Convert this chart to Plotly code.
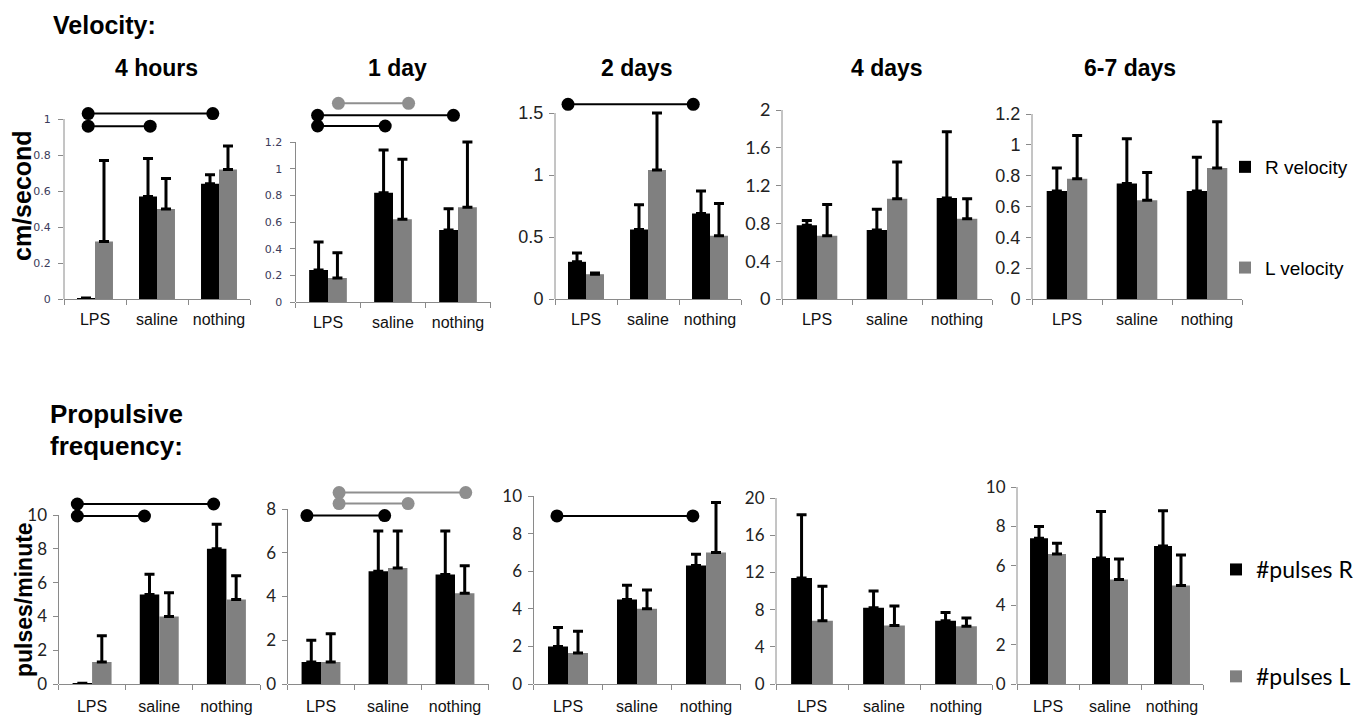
import plotly.graph_objects as go

W, H = 1372, 721
OFF = 8                      # page body margin offset of the figure inside the window
FW, FH = W - OFF, H - OFF    # figure size so that it ends exactly at the window edge

categories = ["LPS", "saline", "nothing"]
cat_pos = [0, 1, 2]
time_titles = ["4 hours", "1 day", "2 days", "4 days", "6-7 days"]

# Velocity (cm/second): means and upper error amounts, per time point
vel_R = [[0.005, 0.57, 0.64], [0.24, 0.82, 0.54], [0.30, 0.56, 0.69], [0.78, 0.73, 1.07], [0.70, 0.75, 0.70]]
vel_R_err = [[0.0, 0.21, 0.05], [0.21, 0.32, 0.16], [0.07, 0.20, 0.18], [0.05, 0.22, 0.70], [0.15, 0.29, 0.22]]
vel_L = [[0.32, 0.50, 0.72], [0.18, 0.62, 0.71], [0.20, 1.04, 0.51], [0.67, 1.06, 0.85], [0.78, 0.64, 0.85]]
vel_L_err = [[0.45, 0.17, 0.13], [0.19, 0.45, 0.49], [0.01, 0.46, 0.26], [0.33, 0.39, 0.21], [0.28, 0.18, 0.30]]

# Propulsive frequency (pulses/minute)
pul_R = [[0.05, 5.3, 8.0], [1.0, 5.15, 5.0], [2.0, 4.5, 6.3], [11.4, 8.2, 6.8], [7.4, 6.4, 7.0]]
pul_R_err = [[0.0, 1.2, 1.45], [1.0, 1.85, 2.0], [1.0, 0.75, 0.6], [6.8, 1.8, 0.9], [0.6, 2.35, 1.8]]
pul_L = [[1.3, 4.0, 5.0], [1.0, 5.3, 4.15], [1.65, 4.0, 7.0], [6.8, 6.3, 6.2], [6.6, 5.3, 5.0]]
pul_L_err = [[1.55, 1.4, 1.4], [1.3, 1.7, 1.25], [1.15, 1.0, 2.65], [3.7, 2.1, 0.9], [0.55, 1.05, 1.55]]

vel_ticks = [
    [0, 0.2, 0.4, 0.6, 0.8, 1],
    [0, 0.2, 0.4, 0.6, 0.8, 1, 1.2],
    [0, 0.5, 1, 1.5],
    [0, 0.4, 0.8, 1.2, 1.6, 2],
    [0, 0.2, 0.4, 0.6, 0.8, 1, 1.2],
]
pul_ticks = [
    [0, 2, 4, 6, 8, 10],
    [0, 2, 4, 6, 8],
    [0, 2, 4, 6, 8, 10],
    [0, 4, 8, 12, 16, 20],
    [0, 2, 4, 6, 8, 10],
]

# significance brackets: (time index, x start, x end, y level, colour)
vel_sig = [
    (0, -0.11, 1.90, 1.03, "black"),
    (0, -0.11, 0.89, 0.96, "black"),
    (1, 0.16, 1.24, 1.49, "gray"),
    (1, -0.16, 1.93, 1.40, "black"),
    (1, -0.16, 0.88, 1.32, "black"),
    (2, -0.29, 1.73, 1.57, "black"),
]
pul_sig = [
    (0, -0.22, 1.81, 10.65, "black"),
    (0, -0.22, 0.78, 9.94, "black"),
    (1, 0.27, 2.16, 8.75, "gray"),
    (1, 0.27, 1.30, 8.25, "gray"),
    (1, -0.21, 0.95, 7.70, "black"),
    (2, -0.16, 1.81, 8.94, "black"),
]

# ---------------- layout geometry (window pixels) ----------------
# (x start, x end, zero line y, top tick y)
row1_geom = [(64, 250, 299, 119), (295.5, 490.5, 302, 142), (555, 741, 299, 113),
             (782, 992, 299, 110), (1032, 1242, 299, 114)]
row2_geom = [(58.5, 260, 684, 515), (287.5, 488.5, 684, 509), (533.5, 740.5, 684, 496),
             (776, 992, 684, 498), (1017, 1203, 684, 487)]
row_top = [92, 482]


def px_x(x):
    return (x - OFF) / FW


def px_y(y):
    return 1 - (y - OFF) / FH


BLACK = "#000000"
GRAY = "#808080"
SIG_GRAY = "#8f8f8f"
AXC = "#8a8a8a"

row1_tickfont = [
    dict(family="DejaVu Sans", size=11, color="#3b3b5b"),
    dict(family="DejaVu Sans", size=11, color="#3b3b5b"),
    dict(family="Liberation Sans", size=18, color="#222"),
    dict(family="Lato", size=18, color="#222"),
    dict(family="Liberation Sans", size=18, color="#222"),
]
row1_standoff = [5, 5, 2, 2, 2]
row2_tickfont = dict(family="Lato", size=17, color="#222")
cat_font = dict(family="Liberation Sans", size=16, color="#111")

fig = go.Figure()
shapes = []

rows = [
    (vel_R, vel_R_err, vel_L, vel_L_err, vel_ticks, vel_sig, row1_geom, "R velocity", "L velocity", "legend"),
    (pul_R, pul_R_err, pul_L, pul_L_err, pul_ticks, pul_sig, row2_geom, "#pulses R", "#pulses L", "legend2"),
]

layout_axes = {}
for r, (R, Rerr, L, Lerr, ticks, sigs, geom, nameR, nameL, leg) in enumerate(rows):
    for p in range(5):
        k = r * 5 + p + 1
        xa = "x" if k == 1 else f"x{k}"
        ya = "y" if k == 1 else f"y{k}"
        fig.add_trace(go.Bar(
            x=cat_pos, y=R[p], name=nameR, marker=dict(color=BLACK, line=dict(width=0)),
            error_y=dict(type="data", array=Rerr[p], arrayminus=[0] * 3, symmetric=False,
                         color=BLACK, thickness=3, width=5),
            xaxis=xa, yaxis=ya, showlegend=(p == 0), legend=leg, legendgroup=f"{leg}R",
            offsetgroup="R", hoverinfo="skip"))
        fig.add_trace(go.Bar(
            x=cat_pos, y=L[p], name=nameL, marker=dict(color=GRAY, line=dict(width=0)),
            error_y=dict(type="data", array=Lerr[p], arrayminus=[0] * 3, symmetric=False,
                         color=BLACK, thickness=3, width=5),
            xaxis=xa, yaxis=ya, showlegend=(p == 0), legend=leg, legendgroup=f"{leg}L",
            offsetgroup="L", hoverinfo="skip"))
        for (pi, sx0, sx1, sy, col) in sigs:
            if pi != p:
                continue
            c = BLACK if col == "black" else SIG_GRAY
            fig.add_trace(go.Scatter(
                x=[sx0, sx1], y=[sy, sy], mode="lines+markers",
                line=dict(color=c, width=2), marker=dict(color=c, size=13),
                cliponaxis=False, showlegend=False, hoverinfo="skip",
                xaxis=xa, yaxis=ya))

        x0, x1, zero, axtop = geom[p]
        top = row_top[r]
        axmax = ticks[p][-1]
        ymax = axmax * (zero - top) / (zero - axtop)
        tf = row1_tickfont[p] if r == 0 else row2_tickfont
        xkey = "xaxis" if k == 1 else f"xaxis{k}"
        ykey = "yaxis" if k == 1 else f"yaxis{k}"
        layout_axes[xkey] = dict(
            domain=[px_x(x0), px_x(x1)], anchor=ya, range=[-0.5, 2.5], automargin=False,
            tickmode="array", tickvals=cat_pos, ticktext=categories, ticks="",
            tickfont=cat_font, showgrid=False, zeroline=False,
            showline=True, linecolor=AXC, linewidth=1,
            ticklabelstandoff=6 if r == 0 else 8,
            minor=dict(tickmode="array", tickvals=[-0.5, 0.5, 1.5, 2.5], ticks="outside",
                       ticklen=5, tickcolor=AXC, tickwidth=1, showgrid=False),
        )
        layout_axes[ykey] = dict(
            domain=[px_y(zero), px_y(top)], anchor=xa, range=[0, ymax], automargin=False,
            tickmode="array", tickvals=ticks[p], ticktext=[f"{v:g}" for v in ticks[p]],
            ticks="outside", ticklen=5, tickcolor=AXC, tickwidth=1,
            ticklabelstandoff=row1_standoff[p] if r == 0 else 2,
            tickfont=tf, showgrid=False, zeroline=False, showline=False,
        )
        shapes.append(dict(type="line", xref="paper", yref="paper",
                           x0=px_x(x0), x1=px_x(x0), y0=px_y(zero), y1=px_y(axtop),
                           line=dict(color=AXC, width=1), layer="above"))

annotations = []


def ann(text, xpx, ypx, size, xanchor="center", angle=0, family="Liberation Sans", bold=True):
    annotations.append(dict(
        text=f"<b>{text}</b>" if bold else text, xref="paper", yref="paper",
        x=px_x(xpx), y=px_y(ypx), xanchor=xanchor, yanchor="middle", showarrow=False,
        textangle=angle, font=dict(family=family, size=size, color="#000")))


ann("Velocity:", 51, 25, 25, xanchor="left")
ann("Propulsive", 48, 414, 26, xanchor="left")
ann("frequency:", 48, 446, 26, xanchor="left")
title_x = [156, 397, 637, 887, 1130]
for t, xp in zip(time_titles, title_x):
    ann(t, xp, 68, 23)
ann("cm/second", 22, 196, 25, angle=-90)
ann("pulses/minute", 24, 600, 23, angle=-90)

fig.update_layout(
    template="none",
    width=FW, height=FH, margin=dict(l=0, r=0, t=0, b=0, pad=0), autosize=False,
    paper_bgcolor="white", plot_bgcolor="white",
    font=dict(family="Liberation Sans", color="#000"),
    barmode="group", bargap=0.42, bargroupgap=0,
    shapes=shapes, annotations=annotations,
    legend=dict(x=px_x(1225), y=px_y(148), xanchor="left", yanchor="top",
                font=dict(family="Liberation Sans", size=19, color="#000"),
                traceorder="grouped", tracegroupgap=73, bgcolor="rgba(0,0,0,0)",
                itemwidth=30),
    legend2=dict(x=px_x(1216), y=px_y(548), xanchor="left", yanchor="top",
                 font=dict(family="Lato", size=23, color="#000"),
                 traceorder="grouped", tracegroupgap=74, bgcolor="rgba(0,0,0,0)",
                 itemwidth=30),
    **layout_axes,
)

fig.write_html("out.html")
